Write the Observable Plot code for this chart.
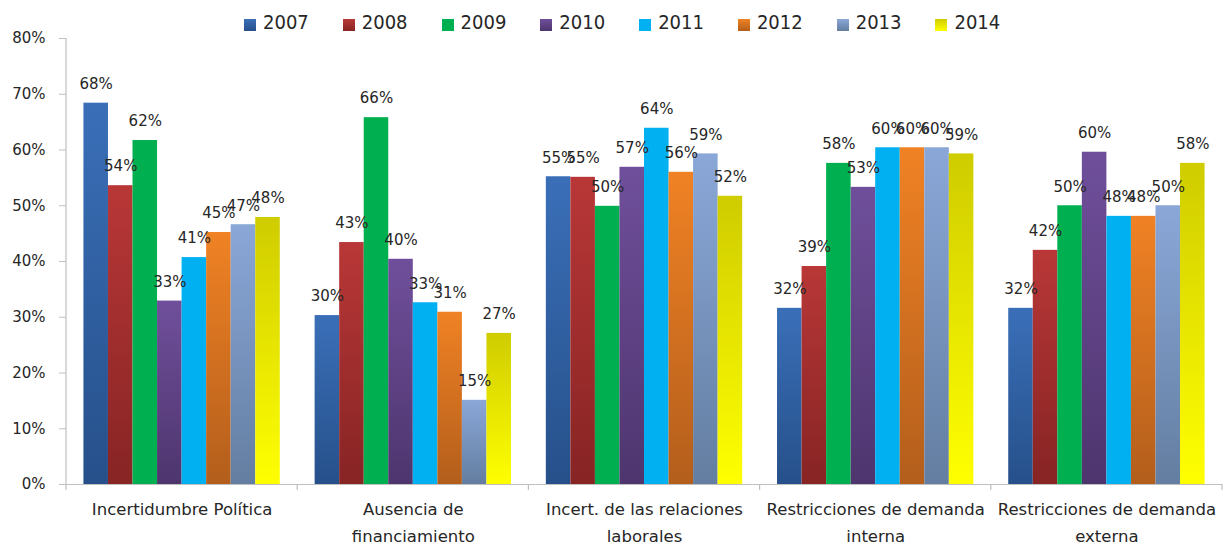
<!DOCTYPE html>
<html>
<head>
<meta charset="utf-8">
<script src="https://cdn.jsdelivr.net/npm/d3@7"></script>
<script src="https://cdn.jsdelivr.net/npm/@observablehq/plot@0.6"></script>
<style>
  body { margin: 0; background: #fff; }
  #legend { height: 32px; display: flex; align-items: flex-start; padding-left: 244px; padding-top: 12px; box-sizing: border-box;
    font-family: "DejaVu Sans Condensed", "DejaVu Sans", sans-serif; font-size: 20px; line-height: 20px; color: #262626; }
  .item { display: flex; align-items: flex-start; margin-right: 34px; }
  .sw { width: 12px; height: 12px; margin-right: 7px; margin-top: 7px; }
  #chart svg { display: block; overflow: visible; }
</style>
</head>
<body>
<div id="legend"></div>
<div id="chart"></div>
<script>
// ---- data ----
const categories = [
  "Incertidumbre Política",
  "Ausencia de financiamiento",
  "Incert. de las relaciones laborales",
  "Restricciones de demanda interna",
  "Restricciones de demanda externa"
];
const categoryLabels = [
  "Incertidumbre Política",
  "Ausencia de\nfinanciamiento",
  "Incert. de las relaciones\nlaborales",
  "Restricciones de demanda\ninterna",
  "Restricciones de demanda\nexterna"
];
const years = ["2007", "2008", "2009", "2010", "2011", "2012", "2013", "2014"];
const v2007 = [68.4, 30.3, 55.2, 31.6, 31.6];
const v2008 = [53.6, 43.4, 55.1, 39.1, 42.0];
const v2009 = [61.7, 65.8, 49.9, 57.6, 50.0];
const v2010 = [32.9, 40.4, 56.9, 53.3, 59.6];
const v2011 = [40.7, 32.6, 63.9, 60.4, 48.1];
const v2012 = [45.2, 30.9, 56.0, 60.4, 48.1];
const v2013 = [46.6, 15.1, 59.3, 60.4, 50.0];
const v2014 = [47.9, 27.1, 51.7, 59.3, 57.6];
const yTicks = [0, 10, 20, 30, 40, 50, 60, 70, 80];

const series = {"2007": v2007, "2008": v2008, "2009": v2009, "2010": v2010,
                "2011": v2011, "2012": v2012, "2013": v2013, "2014": v2014};
const rows = categories.flatMap((c, i) => years.map(y => ({category: c, year: y, value: series[y][i]})));

// ---- styles ----
const gradTop = {"2007": "#3a6fb8", "2008": "#b93737", "2009": "#00b050", "2010": "#6f4f9b",
                 "2011": "#00b0f0", "2012": "#f08224", "2013": "#8aa7d8", "2014": "#cfcc00"};
const gradBottom = {"2007": "#26508a", "2008": "#872424", "2009": "#00b050", "2010": "#4e356e",
                    "2011": "#00b0f0", "2012": "#b35e1c", "2013": "#647ea1", "2014": "#ffff00"};
const textColor = "#262626";
const axisColor = "#bfbfbf";

// ---- legend ----
const legend = document.getElementById("legend");
years.forEach(y => {
  const it = document.createElement("div");
  it.className = "item";
  const sw = document.createElement("div");
  sw.className = "sw";
  sw.style.background = `linear-gradient(to bottom, ${gradTop[y]}, ${gradBottom[y]})`;
  const t = document.createElement("span");
  t.textContent = y;
  it.appendChild(sw); it.appendChild(t);
  legend.appendChild(it);
});

// ---- chart ----
const plot = Plot.plot({
  width: 1230,
  height: 512,
  marginLeft: 66,
  marginRight: 8,
  marginTop: 6,
  marginBottom: 60,
  style: {fontFamily: "'DejaVu Sans', sans-serif", background: "transparent", color: textColor, overflow: "visible"},
  fx: {domain: categories, padding: 0, round: false, label: null},
  x: {domain: years, paddingInner: 0, paddingOuter: 0.71, round: false, axis: null},
  y: {domain: [0, 80], label: null},
  color: {type: "identity"},
  marks: [
    Plot.barY(rows, {fx: "category", x: "year", y: "value", fill: d => `url(#grad${d.year})`}),
    Plot.ruleY([0], {stroke: axisColor, strokeWidth: 1.2}),
    Plot.text(rows, {fx: "category", x: "year", y: "value", text: d => Math.round(d.value) + "%",
      dy: -19, fontSize: 15, fill: textColor}),
    Plot.axisY({ticks: yTicks, tickFormat: d => d + "%", tickSize: 7, tickPadding: 14,
      fontSize: 15, stroke: axisColor, fill: textColor, label: null}),
    Plot.axisFx({anchor: "bottom", tickSize: 0, tickPadding: 12, fontSize: 16.5, lineHeight: 1.6, fill: textColor,
      tickFormat: d => categoryLabels[categories.indexOf(d)], label: null})
  ]
});

// gradients
const svg = d3.select(plot);
const defs = svg.insert("defs", ":first-child");
years.forEach(y => {
  const g = defs.append("linearGradient").attr("id", "grad" + y)
    .attr("x1", 0).attr("y1", 0).attr("x2", 0).attr("y2", 1);
  g.append("stop").attr("offset", "0%").attr("stop-color", gradTop[y]);
  g.append("stop").attr("offset", "100%").attr("stop-color", gradBottom[y]);
});

// axis line and category boundary ticks from the plot's scales
const fx = plot.scale("fx");
const ys = plot.scale("y");
const y0 = ys.apply(0), y80 = ys.apply(80);
const xLeft = fx.apply(categories[0]);
const bounds = categories.map(c => fx.apply(c)).concat([fx.apply(categories[categories.length - 1]) + fx.bandwidth]);
const g = svg.append("g").attr("stroke", axisColor).attr("stroke-width", 1.2);
g.append("line").attr("x1", xLeft).attr("x2", xLeft).attr("y1", y80).attr("y2", y0);
bounds.forEach(b => g.append("line").attr("x1", b).attr("x2", b).attr("y1", y0).attr("y2", y0 + 6));

document.getElementById("chart").appendChild(plot);
</script>
</body>
</html>
